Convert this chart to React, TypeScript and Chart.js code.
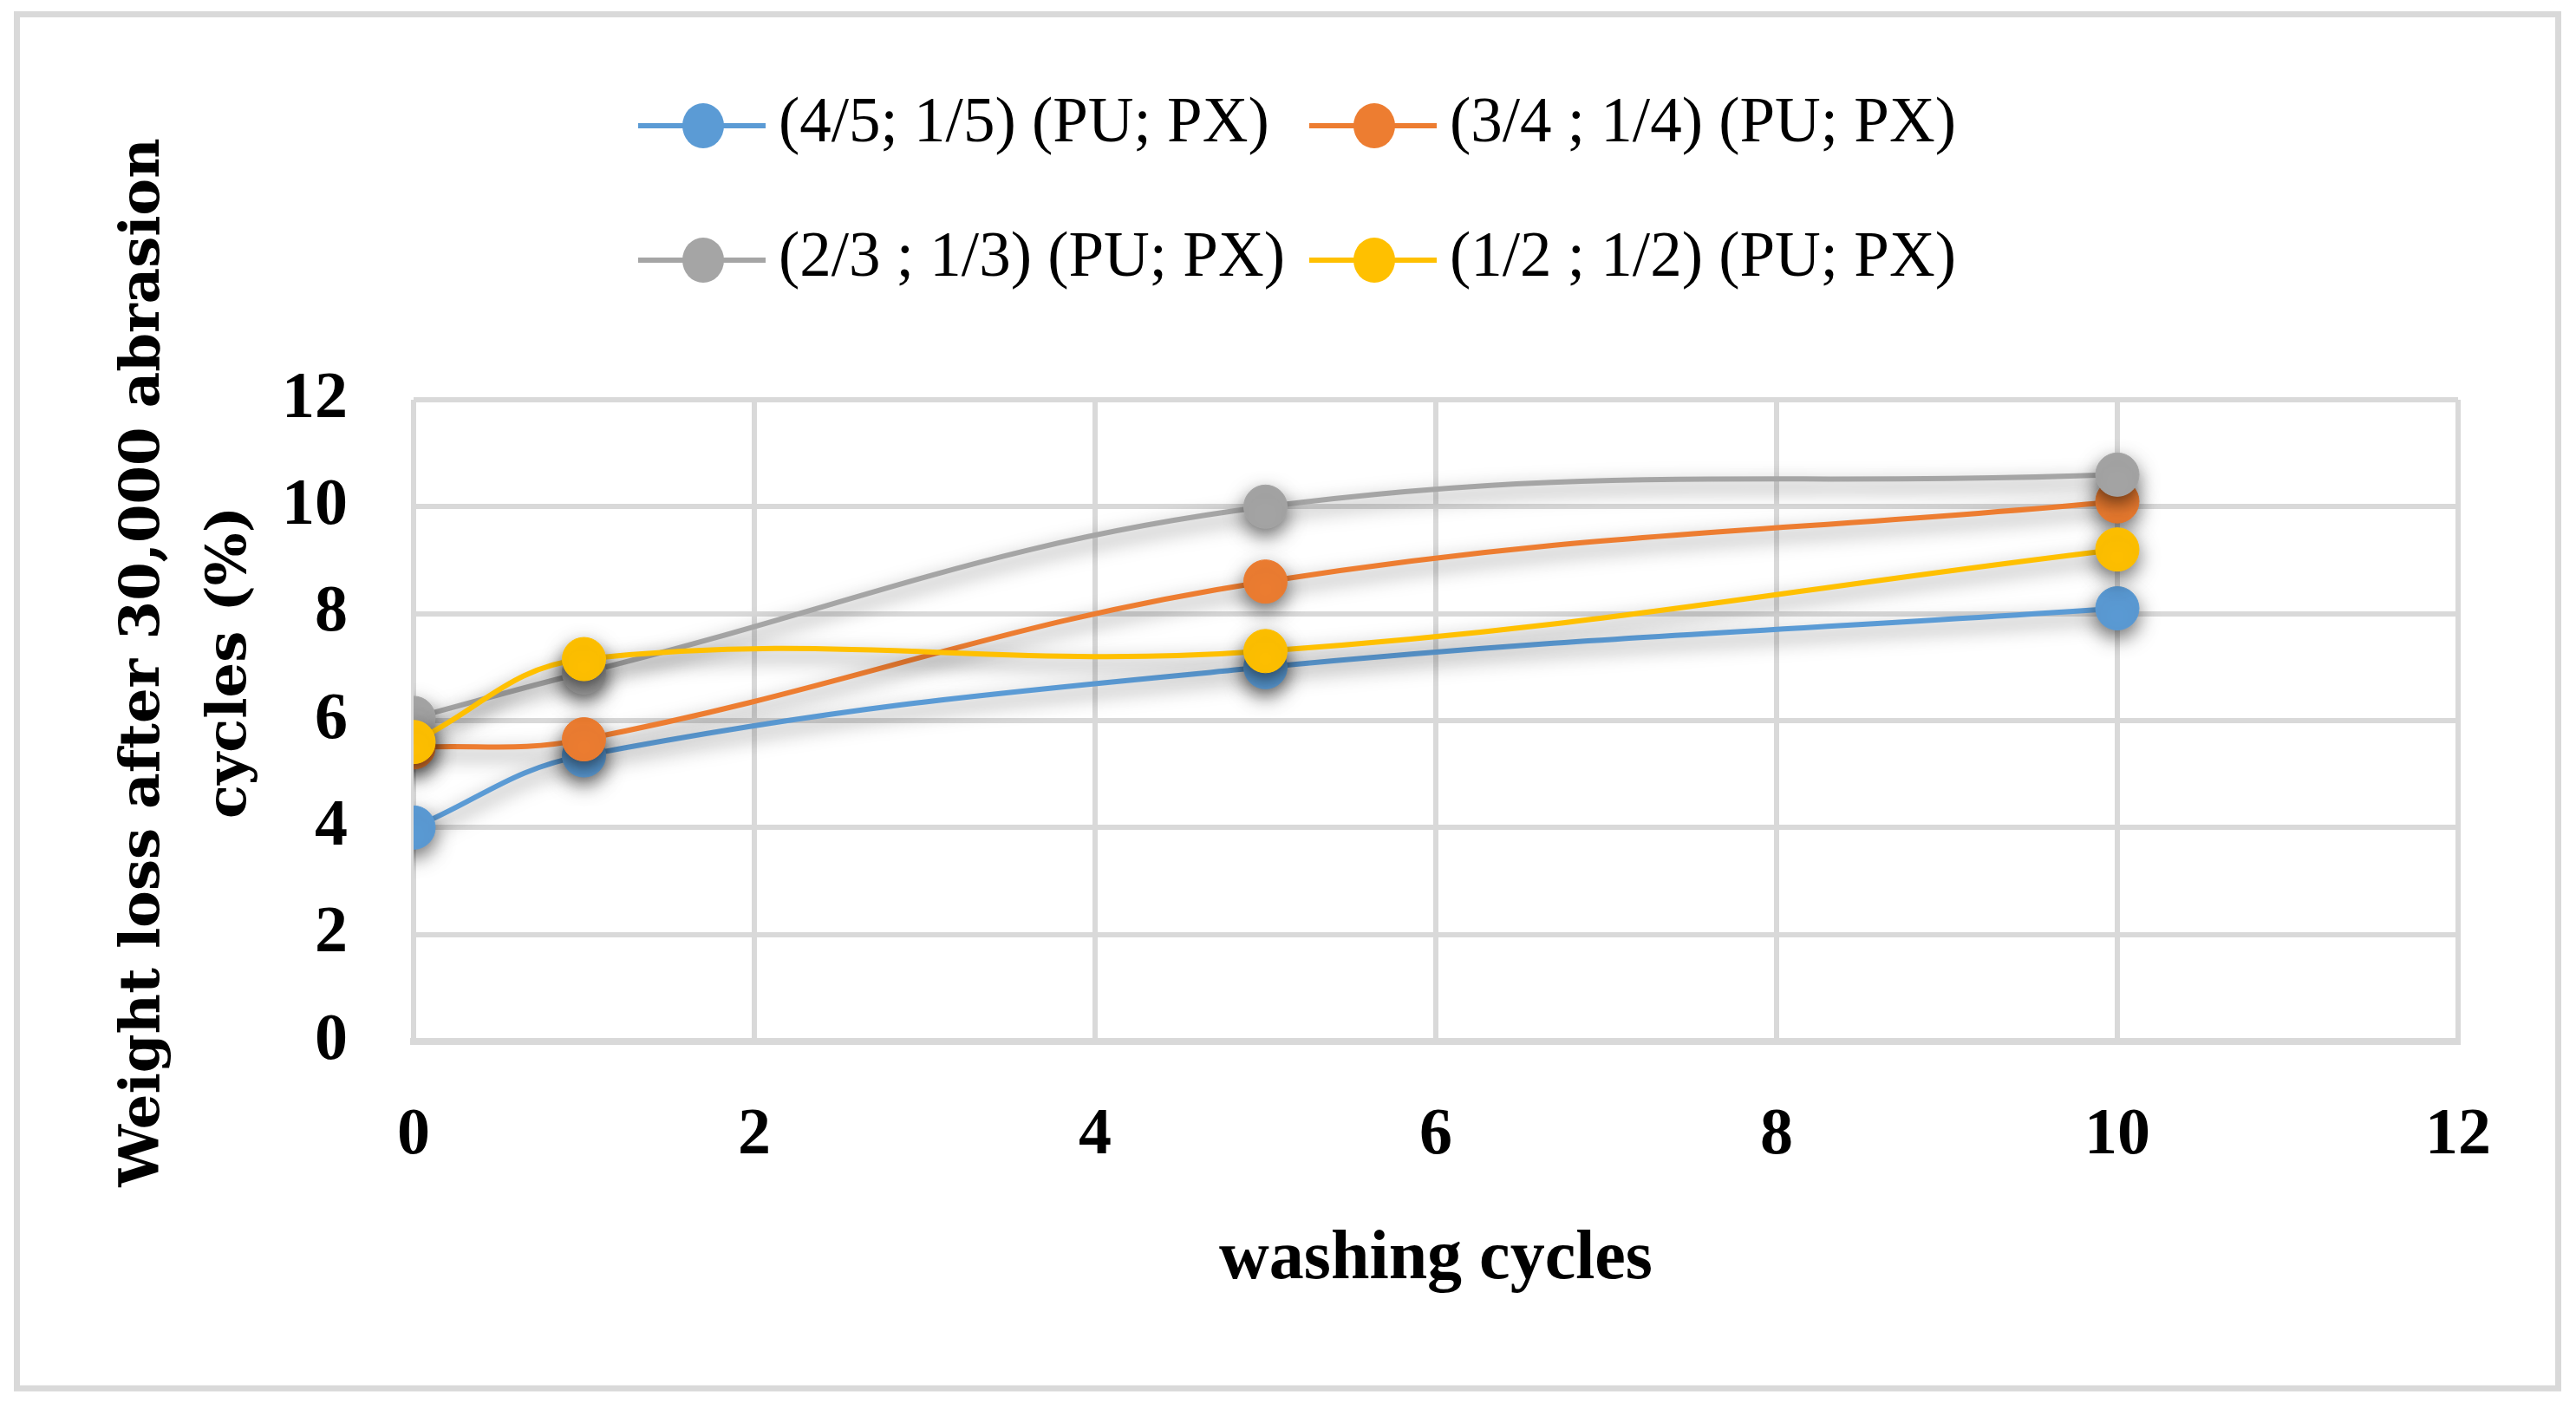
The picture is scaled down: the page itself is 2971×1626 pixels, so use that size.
import { useEffect, useRef } from "react";
import { Chart, registerables } from "chart.js";

Chart.register(...registerables);

// ---- data ----
const washingCycles = [0, 1, 5, 10];
const seriesLabels = [
  "(4/5; 1/5) (PU; PX)",
  "(3/4 ; 1/4) (PU; PX)",
  "(2/3 ; 1/3) (PU; PX)",
  "(1/2 ; 1/2) (PU; PX)",
];
const pu45px15 = [4.0, 5.35, 7.0, 8.1];
const pu34px14 = [5.5, 5.65, 8.6, 10.1];
const pu23px13 = [6.05, 6.9, 10.0, 10.6];
const pu12px12 = [5.6, 7.15, 7.3, 9.2];
const seriesColors = ["#5B9BD5", "#ED7D31", "#A5A5A5", "#FFC000"];
const xAxisMin = 0;
const xAxisMax = 12;
const yAxisMin = 0;
const yAxisMax = 12;
const tickStep = 2;
const xTitle = "washing cycles";
const yTitleLines = ["Weight loss after 30,000 abrasion", "cycles (%)"];

const SERIF = "'Liberation Serif', 'Times New Roman', serif";

const framePlugin = {
  id: "frame",
  beforeDraw(chart: any) {
    const ctx = chart.ctx;
    ctx.save();
    ctx.fillStyle = "#ffffff";
    ctx.fillRect(0, 0, chart.width, chart.height);
    ctx.strokeStyle = "#d9d9d9";
    ctx.lineWidth = 7;
    ctx.strokeRect(19.5, 16.5, 2950.5 - 19.5, 1601 - 16.5);
    ctx.restore();
  },
  afterDraw(chart: any) {
    const ctx = chart.ctx;
    // legend (two rows, two columns)
    const colX = [736, 1510];
    const rowY = [145, 300];
    chart.data.datasets.forEach((ds: any, i: number) => {
      const x0 = colX[i % 2];
      const y0 = rowY[Math.floor(i / 2)];
      ctx.save();
      ctx.strokeStyle = ds.borderColor;
      ctx.lineWidth = 6;
      ctx.beginPath();
      ctx.moveTo(x0, y0);
      ctx.lineTo(x0 + 147, y0);
      ctx.stroke();
      ctx.fillStyle = ds.borderColor;
      ctx.beginPath();
      ctx.ellipse(x0 + 75, y0, 24, 26, 0, 0, Math.PI * 2);
      ctx.fill();
      ctx.fillStyle = "#000";
      ctx.font = `normal 73px ${SERIF}`;
      ctx.textAlign = "left";
      ctx.textBaseline = "alphabetic";
      ctx.fillText(ds.label, x0 + 162, y0 + 18);
      ctx.restore();
    });
    // y-axis title (two rotated lines)
    const baselines = [183, 283];
    yTitleLines.forEach((line, i) => {
      ctx.save();
      ctx.translate(baselines[i], 764);
      ctx.rotate(-Math.PI / 2);
      ctx.fillStyle = "#000";
      ctx.font = `bold 64px 'DejaVu Serif', serif`;
      ctx.textAlign = "center";
      ctx.textBaseline = "alphabetic";
      ctx.fillText(line, 0, 0);
      ctx.restore();
    });
  },
};

const shadowPlugin = {
  id: "markerShadow",
  beforeDatasetDraw(chart: any) {
    const ctx = chart.ctx;
    ctx.save();
    ctx.shadowColor = "rgba(0,0,0,0.55)";
    ctx.shadowBlur = 22;
    ctx.shadowOffsetX = 0;
    ctx.shadowOffsetY = 9;
  },
  afterDatasetDraw(chart: any) {
    chart.ctx.restore();
  },
};

export default function App() {
  const canvasRef = useRef<HTMLCanvasElement | null>(null);

  useEffect(() => {
    if (!canvasRef.current) return;
    const seriesValues = [pu45px15, pu34px14, pu23px13, pu12px12];
    const datasets = seriesValues.map((vals, i) => ({
      label: seriesLabels[i],
      data: washingCycles.map((x, j) => ({ x, y: vals[j] })),
      borderColor: seriesColors[i],
      backgroundColor: seriesColors[i],
      pointBackgroundColor: seriesColors[i],
      pointBorderColor: seriesColors[i],
      pointBorderWidth: 1,
      pointRadius: 25,
      borderWidth: 6,
      tension: 0.4,
      fill: false,
      order: seriesValues.length - 1 - i,
    }));

    const chart = new Chart(canvasRef.current, {
      type: "line",
      data: { datasets },
      plugins: [framePlugin, shadowPlugin],
      options: {
        animation: false,
        responsive: true,
        maintainAspectRatio: false,
        devicePixelRatio: 1,
        layout: { padding: { top: 461, right: 136, bottom: 0, left: 0 } },
        plugins: {
          legend: { display: false },
          tooltip: { enabled: false },
        },
        scales: {
          x: {
            type: "linear",
            min: xAxisMin,
            max: xAxisMax,
            ticks: {
              stepSize: tickStep,
              color: "#000",
              font: { family: SERIF, size: 76, weight: "bold" },
              padding: 64,
            },
            grid: { color: "#d9d9d9", lineWidth: 6, drawTicks: false },
            border: { display: true, color: "#d9d9d9", width: 8 },
            title: {
              display: true,
              text: xTitle,
              color: "#000",
              font: { family: SERIF, size: 80, weight: "bold" },
              padding: { top: 0, bottom: 125 },
            },
            afterFit: (s: any) => {
              s.height = 425;
            },
          },
          y: {
            type: "linear",
            min: yAxisMin,
            max: yAxisMax,
            ticks: {
              stepSize: tickStep,
              color: "#000",
              font: { family: SERIF, size: 76, weight: "bold" },
              padding: 76,
            },
            grid: { color: "#d9d9d9", lineWidth: 6, drawTicks: false },
            border: { display: false },
            afterFit: (s: any) => {
              s.width = 477;
            },
          },
        },
      },
    } as any);
    return () => chart.destroy();
  }, []);

  return (
    <div style={{ position: "fixed", left: 0, top: 0, width: "2971px", height: "1626px", background: "#fff" }}>
      <canvas ref={canvasRef} />
    </div>
  );
}
